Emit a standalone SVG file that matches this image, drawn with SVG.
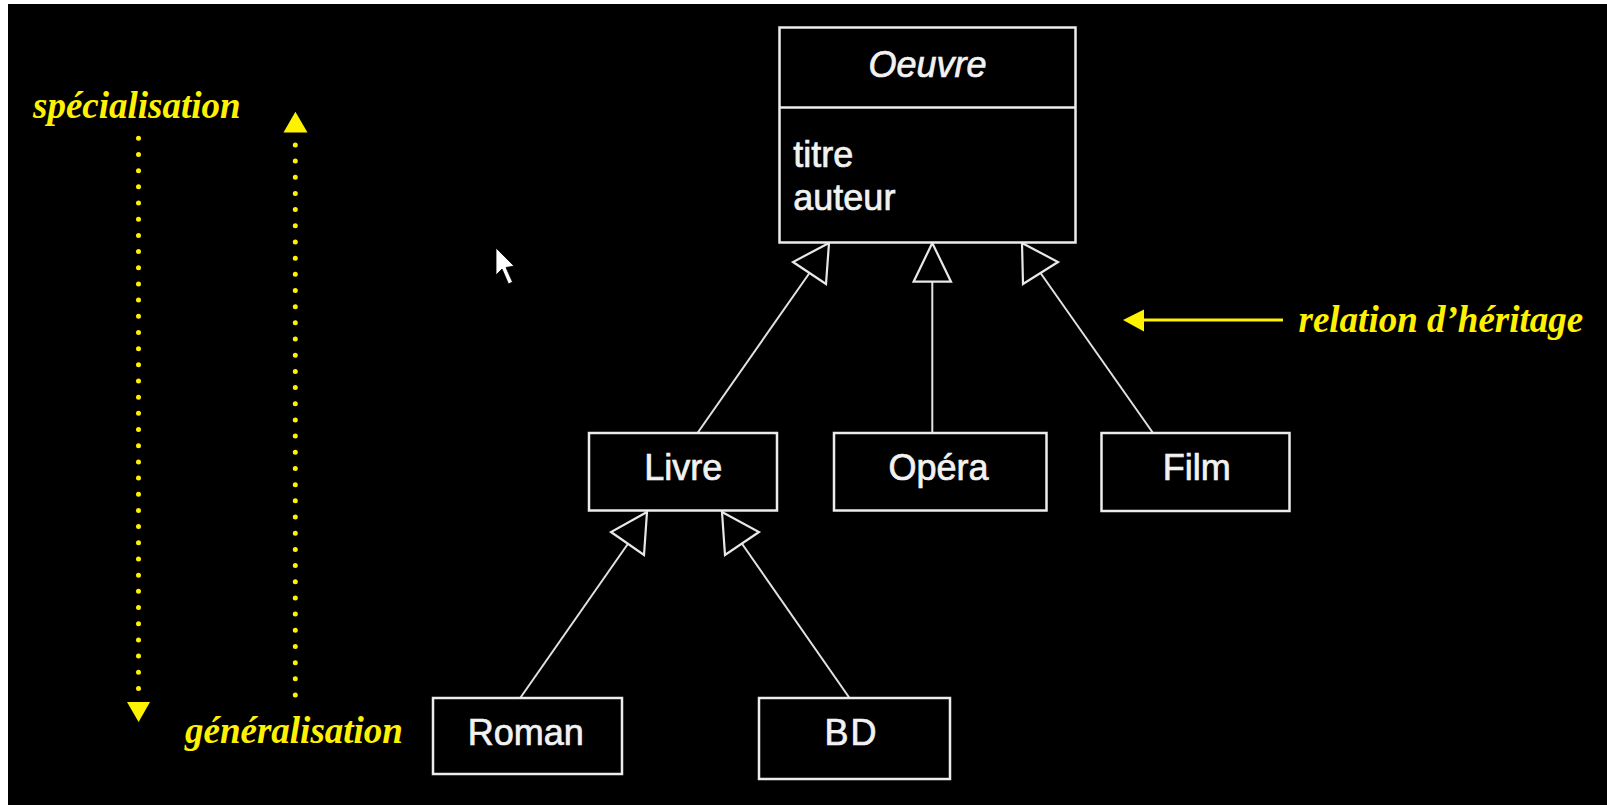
<svg xmlns="http://www.w3.org/2000/svg" width="1607" height="805" viewBox="0 0 1607 805">
  <style>
    .box { fill: #000; stroke: #ececec; stroke-width: 2.5; }
    .cls { font-family: "Liberation Sans", Arial, sans-serif; font-size: 36px; fill: #f2f2f2; stroke: #f2f2f2; stroke-width: 0.7; text-anchor: middle; }
    .attr { font-family: "Liberation Sans", Arial, sans-serif; font-size: 36px; fill: #f2f2f2; stroke: #f2f2f2; stroke-width: 0.7; }
    .link { stroke: #e2e2e2; stroke-width: 2; fill: none; }
    .head { fill: #000; stroke: #e8e8e8; stroke-width: 2.2; stroke-linejoin: miter; }
    .note { font-family: "Liberation Serif", "Times New Roman", serif; font-size: 37px; font-weight: bold; font-style: italic; fill: #fff200; }
    .dots { stroke: #fff200; stroke-width: 5; stroke-linecap: round; stroke-dasharray: 0 16.18; fill: none; }
    .yfill { fill: #fff200; }
  </style>

  <!-- frame -->
  <rect x="0" y="0" width="1607" height="805" fill="#ffffff"/>
  <rect x="8" y="4" width="1599" height="801" fill="#000000"/>

  <!-- direction hints on the left -->
  <g id="specialisation">
    <text class="note" x="33" y="118">spécialisation</text>
    <line class="dots" x1="138.5" y1="138.3" x2="138.5" y2="688.5"/>
    <polygon class="yfill" points="127,702 150,702 138.6,722"/>
  </g>
  <g id="generalisation">
    <line class="dots" x1="295.3" y1="695" x2="295.3" y2="144"/>
    <polygon class="yfill" points="283.5,132.5 307.5,132.5 295.4,111.7"/>
    <text class="note" x="185" y="743">généralisation</text>
  </g>

  <!-- pointer -->
  <polygon id="pointer" points="496,248 496,275 502,269 508.5,284 512.5,282 506,267.5 514,266" fill="#ffffff" stroke="#000" stroke-width="0.8"/>

  <!-- inheritance connectors -->
  <g id="connectors">
    <line class="link" x1="697.5" y1="433" x2="809.5" y2="273"/>
    <polygon class="head" points="829,243 793,262 826,284"/>
    <line class="link" x1="932.3" y1="433" x2="932.3" y2="281.7"/>
    <polygon class="head" points="932.3,243 913.6,281.7 951,281.7"/>
    <line class="link" x1="1153" y1="433" x2="1040.5" y2="273"/>
    <polygon class="head" points="1022,243 1058,262 1023,284"/>
    <line class="link" x1="520.2" y1="698" x2="628.5" y2="543"/>
    <polygon class="head" points="647,512 611,532 644,555"/>
    <line class="link" x1="849.5" y1="698" x2="741.5" y2="543"/>
    <polygon class="head" points="722,512 759,532 725,555"/>
  </g>

  <g id="relation">
    <line x1="1142" y1="320" x2="1283" y2="320" stroke="#fff200" stroke-width="3"/>
    <polygon class="yfill" points="1123,320 1144,309.5 1144,331.5"/>
    <text class="note" x="1298.5" y="331.7">relation d’héritage</text>
  </g>

  <!-- classes -->
  <g id="oeuvre">
    <rect class="box" x="779.5" y="27.5" width="296" height="215"/>
    <line x1="779.5" y1="107.5" x2="1075.5" y2="107.5" stroke="#ececec" stroke-width="2.5"/>
    <text class="cls" x="927.6" y="76.7" font-style="italic">Oeuvre</text>
    <text class="attr" x="793.3" y="166.7">titre</text>
    <text class="attr" x="793.3" y="210">auteur</text>
  </g>
  <g id="livre">
    <rect class="box" x="589" y="433" width="188" height="77.5"/>
    <text class="cls" x="683.2" y="480">Livre</text>
  </g>
  <g id="opera">
    <rect class="box" x="834" y="433" width="212.5" height="77.5"/>
    <text class="cls" x="938.5" y="480">Opéra</text>
  </g>
  <g id="film">
    <rect class="box" x="1101.5" y="433" width="188" height="78"/>
    <text class="cls" x="1196.8" y="480">Film</text>
  </g>
  <g id="roman">
    <rect class="box" x="433" y="698" width="189" height="76"/>
    <text class="cls" x="525.8" y="745">Roman</text>
  </g>
  <g id="bd">
    <rect class="box" x="759" y="698" width="191" height="81"/>
    <text class="cls" x="851.5" y="745" letter-spacing="2">BD</text>
  </g>
</svg>
